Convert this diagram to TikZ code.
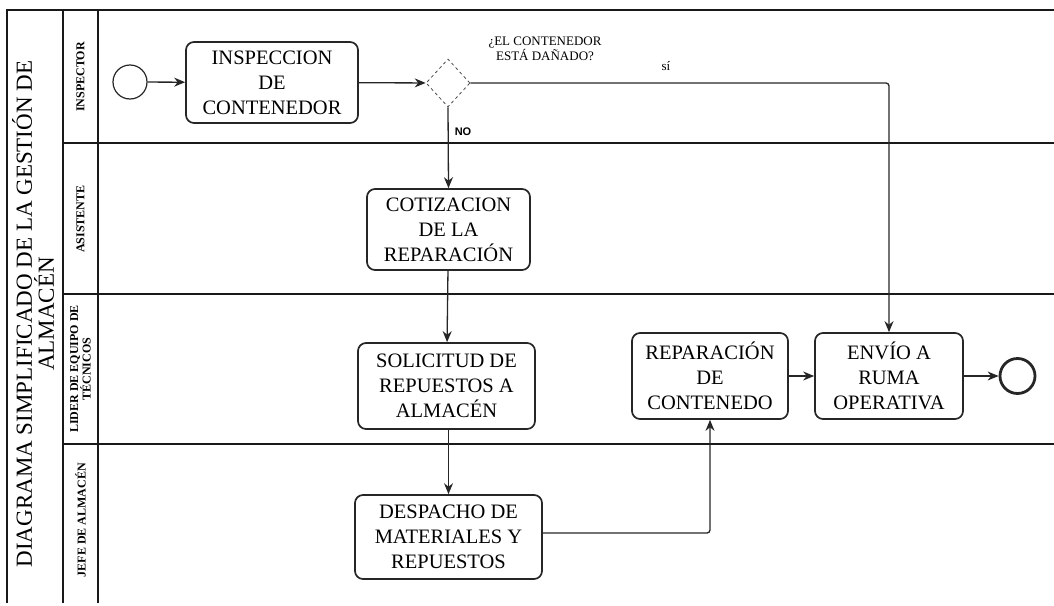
\documentclass[tikz,border=0pt]{standalone}
\usepackage{fontspec}
\setmainfont{Liberation Serif}
\newfontfamily\sansf{Liberation Sans}
\usetikzlibrary{shapes.geometric,arrows.meta}
\begin{document}
\begin{tikzpicture}[x=1pt,y=-1pt,
  ln/.style={draw=black!90, line width=1.6pt},
  task/.style={draw=black!85, line width=1.7pt, rounded corners=8pt, align=center,
    font=\fontsize{20.5}{25}\selectfont, inner sep=0pt},
  flow/.style={draw=black!85, line width=1.3pt, -{Stealth[length=11pt,width=9pt]}},
  lanelbl/.style={rotate=90, font=\bfseries\fontsize{12}{12}\selectfont, align=center},
  event/.style={circle, draw=black!85, inner sep=0pt, minimum size=34pt},
]
\useasboundingbox (0,0) rectangle (1054,605);
% pool frame and lanes
\draw[ln] (7,603) -- (7,10) -- (1054,10);
\draw[ln] (63,603) -- (63,10);
\draw[ln] (98,603) -- (98,10);
\draw[ln] (63,143) -- (1054,143);
\draw[ln] (63,294) -- (1054,294);
\draw[ln] (63,444) -- (1054,444);
% titles
\node[rotate=90, font=\fontsize{23}{22}\selectfont, align=center, inner sep=0pt] (title) at (33,314)
  {DIAGRAMA SIMPLIFICADO DE LA GESTIÓN DE\\ALMACÉN};
\node[lanelbl] (l1) at (80.5,77) {INSPECTOR};
\node[lanelbl] (l2) at (80.5,219) {ASISTENTE};
\node[lanelbl, font=\bfseries\fontsize{12}{12.5}\selectfont] (l3) at (80.5,369) {LIDER DE EQUIPO DE\\TÉCNICOS};
\node[lanelbl] (l4) at (80.5,520) {JEFE DE ALMACÉN};
% events
\node[event, line width=1.2pt] (start) at (130,82) {};
\node[event, line width=2.8pt, minimum size=35pt] (end) at (1017.5,376) {};
% tasks
\node[task, minimum width=172pt, minimum height=81pt] (insp) at (272,82.5) {INSPECCION\\DE\\CONTENEDOR};
\node[task, minimum width=163pt, minimum height=81pt] (cot) at (448.5,229.5) {COTIZACION\\DE LA\\REPARACIÓN};
\node[task, minimum width=177pt, minimum height=86pt] (sol) at (446.5,386) {SOLICITUD DE\\REPUESTOS A\\ALMACÉN};
\node[task, minimum width=187pt, minimum height=84pt] (desp) at (448.5,537) {DESPACHO DE\\MATERIALES Y\\REPUESTOS};
\node[task, minimum width=156pt, minimum height=86pt] (rep) at (710,376) {REPARACIÓN\\DE\\CONTENEDO};
\node[task, minimum width=148pt, minimum height=86pt] (env) at (889,376) {ENVÍO A\\RUMA\\OPERATIVA};
% gateway
\node[diamond, draw=black!70, dashed, line width=0.8pt, inner sep=0pt,
  minimum width=44pt, minimum height=48pt] (gw) at (448,83) {};
\node[font=\fontsize{13}{12}\selectfont, align=center] (q) at (545,49) {¿EL CONTENEDOR\\ESTÁ DAÑADO?};
\node[font=\fontsize{13}{13}\selectfont] (si) at (666,66) {sí};
\node[font=\sansf\bfseries\fontsize{11}{12}\selectfont] (no) at (463,132) {NO};
% flows
\draw[flow] (start) -- (insp);
\draw[flow] (insp) -- (gw);
\draw[flow] (gw.south) -- (cot.north);
\draw[flow, rounded corners=3pt] (gw.east) -| (env.north);
\draw[flow] (cot) -- (sol);
\draw[flow] (sol.south -| desp.north) -- (desp.north);
\draw[flow, rounded corners=3pt] ([yshift=4pt]desp.east) -| (rep.south);
\draw[flow] (rep) -- (env);
\draw[flow] (env) -- (end);
\end{tikzpicture}
\end{document}
